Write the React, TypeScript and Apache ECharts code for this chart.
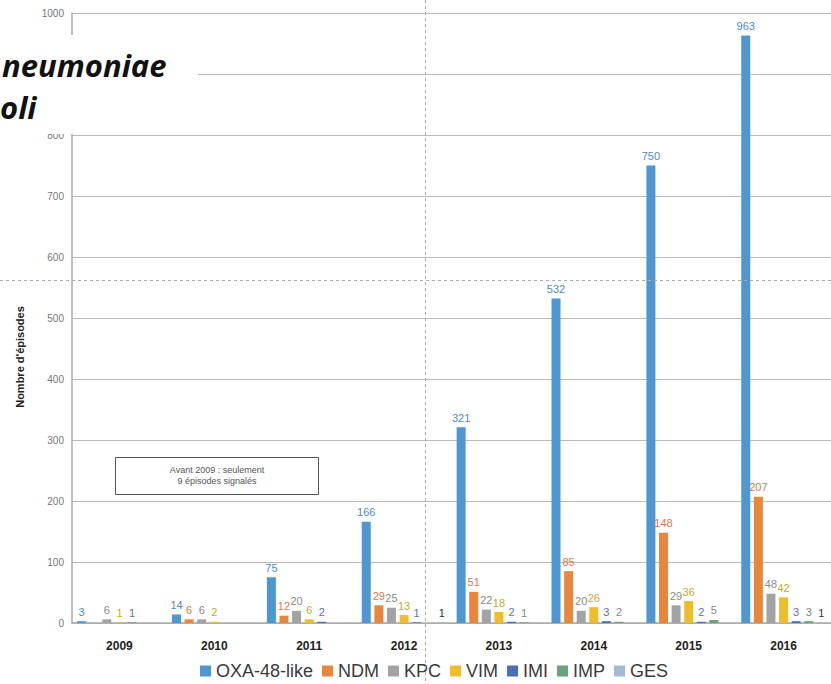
import React, { useEffect, useRef } from "react";
import * as echarts from "echarts";

const years = ["2009", "2010", "2011", "2012", "2013", "2014", "2015", "2016"];
const oxa = [3, 14, 75, 166, 321, 532, 750, 963];
const ndm = [null, 6, 12, 29, 51, 85, 148, 207];
const kpc = [6, 6, 20, 25, 22, 20, 29, 48];
const vim = [1, 2, 6, 13, 18, 26, 36, 42];
const imi = [1, null, 2, 1, 2, 3, 2, 3];
const imp = [null, null, null, null, 1, 2, 5, 3];
const ges = [null, null, null, 1, null, null, null, 1];

const seriesDefs = [
  { name: "OXA-48-like", data: oxa, color: "#4E97D1", label: "#4E8CC6" },
  { name: "NDM", data: ndm, color: "#E8863C", label: "#E0784A" },
  { name: "KPC", data: kpc, color: "#A3A3A3", label: "#8A8A8A" },
  { name: "VIM", data: vim, color: "#EDBE2A", label: "#C8AA2A" },
  { name: "IMI", data: imi, color: "#4A6FB5", label: "#6070AA" },
  { name: "IMP", data: imp, color: "#6BA37A", label: "#808A84" },
  { name: "GES", data: ges, color: "#A3BAD6", label: "#333333" },
];

const yTicks = { min: 0, max: 1000, interval: 100 };
const hiddenTick = 900; // covered by the title overlay in the reference
const yName = "Nombre d'épisodes";
const noteLines = ["Avant 2009 : seulement", "9 épisodes signalés"];
const titleLines = ["neumoniae", "oli"];

export default function App() {
  const ref = useRef<HTMLDivElement>(null);
  useEffect(() => {
    if (!ref.current) return;
    const chart = echarts.init(ref.current, null, { renderer: "svg" });
    chart.setOption({
      animation: false,
      backgroundColor: "#ffffff",
      textStyle: { fontFamily: "Liberation Sans, Arial, sans-serif" },
      grid: { left: 72, right: -7, top: 13, bottom: 61, containLabel: false },
      legend: {
        left: 195,
        top: 657,
        itemWidth: 11,
        itemHeight: 11,
        itemGap: 9,
        icon: "rect",
        padding: [4, 5, 4, 5],
        textStyle: { fontSize: 18, lineHeight: 20, color: "#3a3a3a", fontFamily: "Liberation Sans, Arial, sans-serif" },
        data: seriesDefs.map((s) => s.name),
      },
      xAxis: {
        type: "category",
        data: years,
        axisLine: { show: true, lineStyle: { color: "#aaaaaa", width: 1.5 } },
        axisTick: { show: false },
        axisLabel: { fontSize: 12, fontWeight: "bold", color: "#222", margin: 17 },
      },
      yAxis: {
        type: "value",
        min: yTicks.min,
        max: yTicks.max,
        interval: yTicks.interval,
        axisLine: { show: true, lineStyle: { color: "#aaaaaa", width: 1.5 } },
        axisTick: { show: false },
        axisLabel: {
          fontSize: 10,
          color: "#777",
          margin: 8,
          formatter: (v: number) => (v === hiddenTick ? "" : String(v)),
        },
        splitLine: { lineStyle: { color: "#bbbbbb", width: 1.2 } },
      },
      series: seriesDefs.map((s) => ({
        type: "bar",
        name: s.name,
        data: s.data,
        barWidth: 9,
        barGap: "40%",
        itemStyle: { color: s.color },
        label: {
          show: true,
          position: "top",
          distance: 4,
          fontSize: 11,
          color: s.label,
        },
      })),
      graphic: [
        {
          type: "rect",
          shape: { x: 0, y: 35, width: 198, height: 99 },
          style: { fill: "#ffffff" },
          z: 100,
        },
        {
          type: "text",
          x: 2,
          y: 80,
          z: 101,
          style: {
            text: titleLines[0],
            font: "italic bold 31px 'Open Sans', sans-serif",
            fill: "#111",
            verticalAlign: "bottom",
          },
        },
        {
          type: "text",
          x: 0,
          y: 122,
          z: 101,
          style: {
            text: titleLines[1],
            font: "italic bold 31px 'Open Sans', sans-serif",
            fill: "#111",
            verticalAlign: "bottom",
          },
        },
        {
          type: "rect",
          shape: { x: 115.5, y: 457.5, width: 203, height: 37 },
          style: { fill: "#ffffff", stroke: "#555", lineWidth: 1 },
          z: 50,
        },
        {
          type: "text",
          x: 217,
          y: 470,
          z: 51,
          style: { text: noteLines[0], font: "9px 'Liberation Sans', Arial", fill: "#555", align: "center", verticalAlign: "middle" },
        },
        {
          type: "text",
          x: 217,
          y: 481,
          z: 51,
          style: { text: noteLines[1], font: "9px 'Liberation Sans', Arial", fill: "#555", align: "center", verticalAlign: "middle" },
        },
        {
          type: "text",
          x: 20,
          y: 357,
          rotation: Math.PI / 2,
          z: 51,
          style: { text: yName, font: "bold 11px 'Liberation Sans', Arial", fill: "#222", align: "center", verticalAlign: "middle" },
        },
        {
          type: "line",
          shape: { x1: 0, y1: 280.5, x2: 831, y2: 280.5 },
          style: { stroke: "#aaaaaa", lineWidth: 1, lineDash: [3, 3] },
          z: 120,
        },
        {
          type: "line",
          shape: { x1: 425.5, y1: 0, x2: 425.5, y2: 684 },
          style: { stroke: "#aaaaaa", lineWidth: 1, lineDash: [3, 3] },
          z: 120,
        },
      ],
    });
    return () => chart.dispose();
  }, []);
  return (
    <div
      ref={ref}
      style={{ position: "fixed", left: 0, top: 0, width: 831, height: 684, background: "#fff" }}
    />
  );
}
